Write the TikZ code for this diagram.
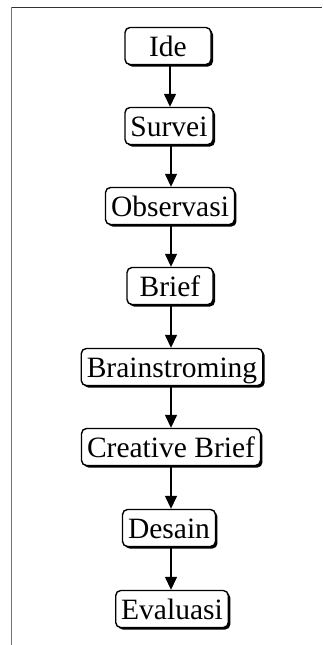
\documentclass[tikz,border=0pt]{standalone}
\usepackage{fontspec}
\setmainfont{Liberation Serif}
\usetikzlibrary{arrows.meta,shadows}
\begin{document}
\begin{tikzpicture}[x=1pt,y=1pt,
  stepbox/.style={draw=black, line width=1.4pt, rounded corners=5pt, fill=white,
    font=\fontsize{29.5}{31}\selectfont, minimum width=86pt, minimum height=37pt,
    inner xsep=5.5pt, inner ysep=0pt, text height=24pt, text depth=4pt,
    drop shadow={shadow xshift=2pt, shadow yshift=-2pt, fill=black, opacity=1}},
  flow/.style={line width=1.4pt, -{Triangle[length=13pt,width=12pt]}}]
\useasboundingbox (0,0) rectangle (322,-645);
\fill[white] (0,0) rectangle (322,-645);
\draw[color=black!80, line width=1pt] (11,-7) -- (322,-7);
\draw[color=black!55, line width=1pt] (11,-7) -- (11,-645);
\node[stepbox] (n1) at (168,-46) {Ide};
\node[stepbox] (n2) at (169,-126) {Survei};
\node[stepbox] (n3) at (170,-206) {Observasi};
\node[stepbox] (n4) at (170,-286) {Brief};
\node[stepbox] (n5) at (172,-367) {Brainstroming};
\node[stepbox] (n6) at (171,-447) {Creative Brief};
\node[stepbox] (n7) at (169,-528) {Desain};
\node[stepbox] (n8) at (172,-609) {Evaluasi};
\draw[flow] (n1.south -| 170,0) -- (n2.north -| 170,0);
\draw[flow] (n2.south -| 171,0) -- (n3.north -| 171,0);
\draw[flow] (n3.south -| 171,0) -- (n4.north -| 171,0);
\draw[flow] (n4.south -| 171,0) -- (n5.north -| 171,0);
\draw[flow] (n5.south -| 171,0) -- (n6.north -| 171,0);
\draw[flow] (n6.south -| 171,0) -- (n7.north -| 171,0);
\draw[flow] (n7.south -| 171,0) -- (n8.north -| 171,0);
\end{tikzpicture}
\end{document}
